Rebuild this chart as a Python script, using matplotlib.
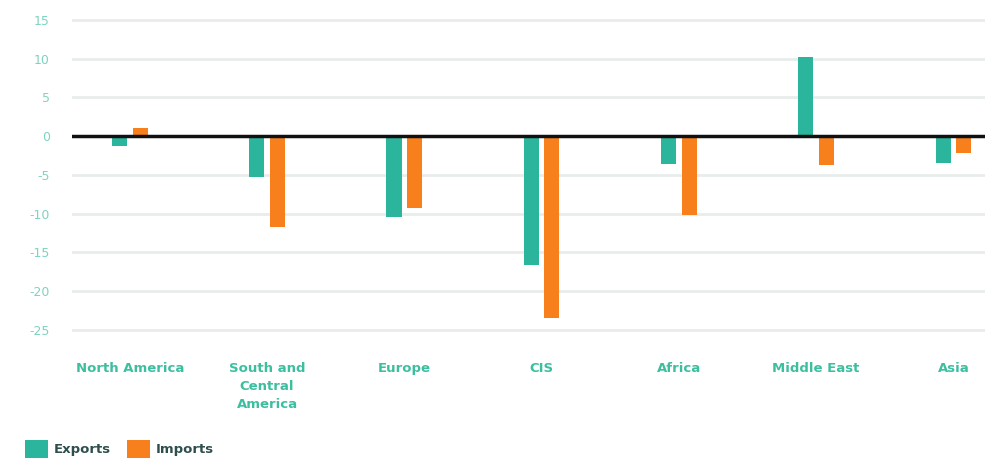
import numpy as np
import matplotlib.pyplot as plt

regions = ["North America", "South and\nCentral\nAmerica", "Europe", "CIS",
           "Africa", "Middle East", "Asia"]
exports = [-1.3, -5.3, -10.4, -16.6, -3.6, 10.2, -3.5]
imports = [1.1, -11.7, -9.3, -23.5, -10.2, -3.7, -2.2]
yticks = [15, 10, 5, 0, -5, -10, -15, -20, -25]

teal = "#2bb59c"
orange = "#f7801c"
label_col = "#3cbf9f"

fig = plt.figure(figsize=(9.88, 4.63), dpi=100)
ax = fig.add_axes([0.073, 0.254, 0.924, 0.72])

x = np.arange(len(regions))
w = 0.11
ax.bar(x - 0.075, exports, w, color=teal, label="Exports", zorder=3)
ax.bar(x + 0.075, imports, w, color=orange, label="Imports", zorder=3)

ax.axhline(0, color="#111111", lw=2.5, zorder=4)
for t in yticks:
    if t != 0:
        ax.axhline(t, color="#e8ecea", lw=2, zorder=1)

ax.set_xlim(-0.42, 6.23)
ax.set_ylim(-27, 16)
ax.set_yticks(yticks)
ax.set_yticklabels([str(t) for t in yticks], color="#7fd3c0", fontsize=9)
ax.set_xticks(x)
ax.set_xticklabels(regions, color=label_col, fontsize=9.5, fontweight="bold",
                   linespacing=1.5, va="top")
ax.tick_params(axis="both", length=0)
ax.tick_params(axis="x", pad=12)
ax.tick_params(axis="y", pad=16)
for s in ax.spines.values():
    s.set_visible(False)

fig.legend(loc="lower left", bbox_to_anchor=(0.013, -0.015), ncol=2, frameon=False,
           handlelength=1.8, handleheight=1.7, handletextpad=0.4, columnspacing=1.2,
           prop={"weight": "bold", "size": 9.5}, labelcolor="#2f4f4f")

plt.savefig("out.png", dpi=100)
